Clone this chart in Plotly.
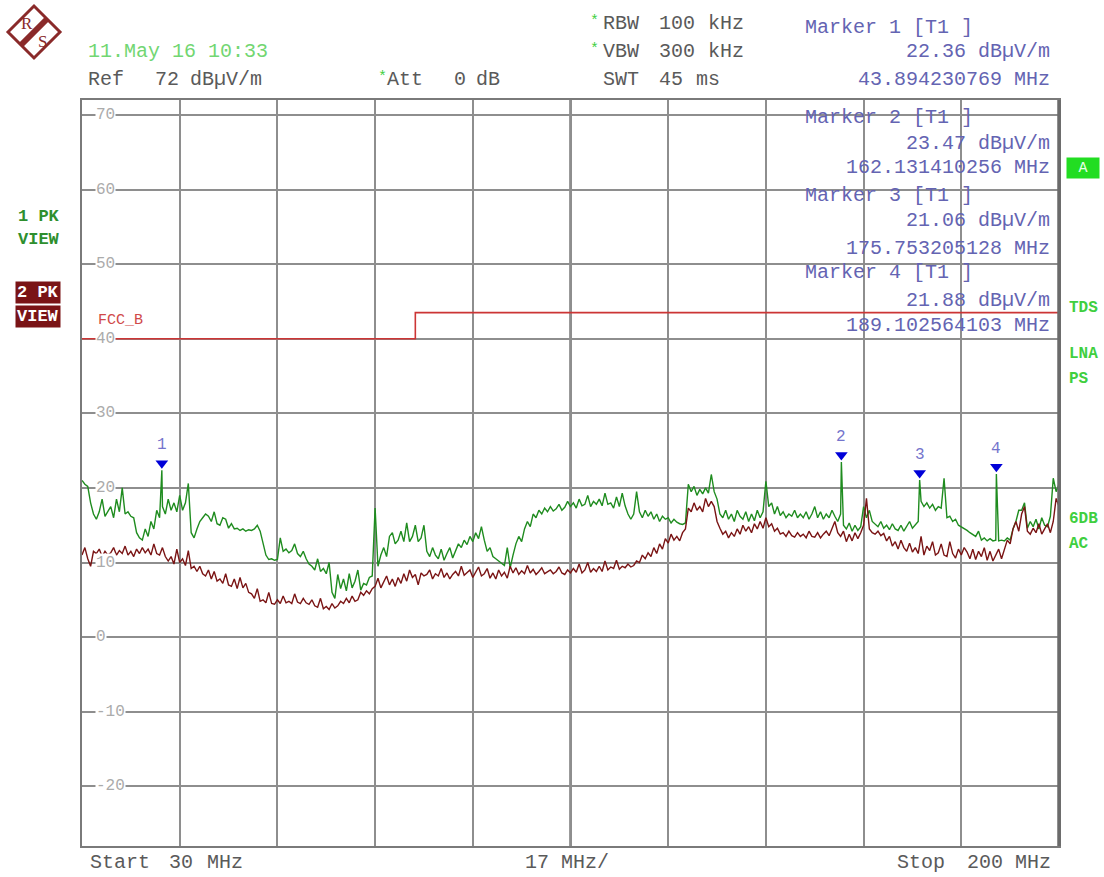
import numpy as np
import plotly.graph_objects as go

# ---------------- data ----------------
START_MHZ = 30.0
STOP_MHZ = 200.0
STEP_MHZ = 0.5
SPAN_DIV_MHZ = 17.0
REF_LEVEL = 72.0
DB_PER_DIV = 10.0

# Trace 1 (PK, green) dBuV/m, 30..200 MHz in 0.5 MHz steps
TRACE1_DBUV = [
    21.0, 20.5, 20.2, 18.0, 16.5, 15.8, 16.8, 18.5, 16.2, 16.8,
    17.5, 16.0, 18.5, 16.8, 20.0, 16.5, 16.8, 16.2, 16.0, 14.0,
    13.3, 13.0, 14.5, 13.5, 15.5, 14.5, 17.0, 16.0, 17.5, 16.5,
    18.5, 17.0, 18.0, 16.8, 19.0, 17.0, 18.0, 20.6, 14.0, 13.3,
    14.5, 15.5, 16.0, 16.5, 16.2, 15.5, 16.8, 15.2, 15.0, 16.0,
    15.8, 14.6, 15.2, 14.5, 14.6, 14.3, 14.5, 14.2, 14.4, 14.3,
    14.5, 15.0, 14.2, 12.5, 11.0, 10.4, 10.5, 10.3, 10.4, 13.3,
    11.5, 11.8, 11.3, 11.6, 12.5, 11.2, 10.8, 11.5, 10.5, 9.8,
    9.5, 9.0, 10.5, 8.8, 9.2, 8.5, 10.0, 6.0, 5.2, 8.4,
    6.5, 7.8, 6.2, 8.5, 6.6, 7.5, 9.0, 6.3, 7.2, 7.0,
    8.0, 8.2, 17.3, 9.5, 11.0, 12.0, 10.8, 13.5, 14.0, 12.5,
    13.0, 14.2, 12.8, 15.3, 12.8, 13.5, 15.0, 12.8, 13.3, 15.0,
    11.5, 10.8, 12.0, 11.0, 10.5, 11.8, 10.3, 11.2, 12.0, 10.6,
    11.5, 12.5, 12.0, 13.0, 12.4, 13.5, 12.8, 14.0, 13.2, 14.8,
    13.0, 11.5, 12.0, 10.8, 10.5, 10.2, 9.8, 9.6, 12.0, 9.3,
    11.0, 12.5, 13.5, 12.8, 14.5, 15.5, 14.8, 16.5, 16.0, 17.0,
    16.5, 17.3, 16.8, 17.5, 16.9, 17.2, 17.8, 17.0, 17.4, 18.2,
    17.5, 18.0, 17.3, 18.5, 17.6, 17.8, 19.0, 17.5, 18.2, 17.8,
    18.5, 17.6, 19.3, 17.8, 18.0, 17.3, 18.8, 17.5, 19.3, 17.6,
    16.5, 15.8, 16.5, 19.5, 16.8, 16.0, 17.0, 16.2, 16.8, 15.8,
    16.5, 15.5, 16.2, 15.8, 16.0, 15.3, 15.8, 15.4, 15.2, 15.1,
    15.3, 20.5, 19.5, 20.2, 19.0, 19.8, 19.2, 20.0, 19.3, 21.8,
    19.5, 18.5, 16.5, 16.0, 17.0, 15.8, 16.5, 15.5, 17.0, 16.2,
    15.8, 16.8, 15.5, 16.5, 15.6, 17.0, 16.0, 16.8, 20.9, 17.5,
    18.0, 16.5, 17.5, 16.3, 16.8, 16.0, 16.5, 16.2, 17.0, 16.0,
    16.5, 16.0, 16.8, 15.8, 16.5, 17.5, 16.0, 16.8, 15.8, 16.5,
    16.0, 17.0, 16.2, 15.5, 16.5, 15.0, 14.5, 15.3, 14.2, 15.0,
    14.3, 14.8, 17.5, 16.0, 17.0, 15.5, 15.2, 14.8, 15.5, 14.6,
    15.0, 14.4, 15.2, 14.5, 14.3, 15.0, 14.2, 14.8, 15.5, 14.6,
    15.0, 15.5, 18.2, 17.5, 18.0, 17.3, 17.8, 17.0, 17.5, 17.3,
    21.3, 16.0, 16.2, 15.5, 15.8, 15.0, 14.8, 14.6, 14.3, 14.0,
    13.8, 13.5, 14.2, 13.0, 13.3, 12.9, 13.2, 12.9, 13.0, 12.9,
    13.0, 12.9, 13.3, 13.0, 14.5, 15.5, 17.0, 17.0, 18.0, 14.6,
    15.5, 14.8, 15.8, 14.5, 16.0, 15.0, 14.8, 16.2, 21.3, 19.5,
    20.5,
]

# Trace 2 (PK, dark red) dBuV/m, same frequency grid
TRACE2_DBUV = [
    11.0, 12.0, 10.5, 9.5, 11.5, 11.2, 11.8, 10.8, 11.5, 11.0,
    11.3, 12.0, 11.0, 11.6, 11.2, 12.2, 11.0, 11.5, 10.8, 11.8,
    11.2, 12.0, 11.3, 11.8, 11.0, 12.5, 11.2, 11.0, 12.0, 10.8,
    10.2, 10.8, 9.8, 11.8, 10.0, 10.5, 9.6, 11.6, 9.2, 9.5,
    8.8, 9.5, 8.5, 8.2, 9.0, 7.8, 8.8, 7.5, 7.8, 7.2,
    8.5, 7.0, 6.8, 7.8, 6.5, 8.0, 6.6, 7.2, 6.0, 5.8,
    5.2, 6.5, 4.8, 5.0, 4.6, 6.0, 4.5, 4.4, 5.0, 4.5,
    5.5, 4.6, 4.8, 4.5, 5.8, 4.7, 4.5, 5.2, 4.6, 4.4,
    5.0, 4.2, 4.0, 5.2, 3.8, 4.1, 3.7, 4.5, 3.9, 4.2,
    4.8, 4.5, 5.2, 4.6, 5.5, 4.8, 5.0, 6.0, 5.6, 6.2,
    5.8, 6.5, 6.8, 7.9, 6.6, 7.5, 8.2, 7.0, 7.8, 6.8,
    8.0, 7.2, 8.5, 7.5, 9.0, 8.0, 8.4, 7.0, 8.6, 8.2,
    8.4, 9.0, 7.8, 8.5, 8.2, 9.2, 8.0, 8.6, 7.8, 8.4,
    8.8, 8.2, 9.5, 8.3, 8.6, 9.0, 8.0, 8.8, 9.4, 8.2,
    8.5, 9.2, 7.9, 8.6, 7.8, 9.0, 8.2, 8.7, 7.9, 9.5,
    8.6, 9.3, 8.4, 8.9, 8.5, 9.6, 8.6, 9.1, 8.4, 8.8,
    9.3, 8.5, 8.8, 9.0, 8.5, 8.8, 9.4, 8.6, 8.4, 9.0,
    8.6, 9.2, 8.7, 9.8, 8.6, 9.0, 10.0, 8.7, 9.2, 8.8,
    9.5, 8.8, 10.2, 9.0, 9.4, 9.2, 10.3, 9.1, 9.5, 9.3,
    9.8, 9.4, 9.6, 10.2, 10.0, 11.0, 10.5, 11.3, 10.8, 12.0,
    11.2, 12.5, 11.8, 13.2, 12.6, 13.8, 13.0, 13.5, 12.9, 14.0,
    14.5, 17.3, 16.8, 18.0, 17.0, 17.5, 16.8, 18.6, 17.5, 18.2,
    17.5, 15.5, 14.6, 13.8, 14.2, 13.3, 14.0, 13.5, 14.5, 13.8,
    15.0, 14.2, 14.8, 14.0, 15.2, 14.5, 15.5, 14.6, 16.0, 14.8,
    15.2, 14.2, 14.6, 13.8, 14.0, 13.5, 14.2, 13.6, 13.4, 14.0,
    13.5, 13.8, 13.3, 14.2, 13.5, 13.4, 14.0, 13.3, 13.8, 14.2,
    13.6, 14.5, 15.5, 14.0, 13.5, 14.2, 12.8, 13.8, 12.9, 14.0,
    13.2, 14.0, 15.0, 18.6, 14.5, 14.0, 13.8, 14.2, 13.6, 13.9,
    12.9, 13.5, 12.2, 12.8, 11.8, 13.0, 12.0, 11.5, 12.6, 11.4,
    12.0, 11.2, 13.5, 11.0, 12.2, 11.6, 12.8, 11.0, 11.3, 12.5,
    11.0, 10.8, 12.8, 11.2, 10.6, 11.8, 11.0, 12.0, 11.4, 10.5,
    11.8, 10.4, 11.5, 10.8, 12.0, 10.3, 11.5, 10.2, 10.9, 11.8,
    10.5, 11.8, 13.0, 12.5, 14.5, 15.5, 14.2, 16.5, 17.5, 14.2,
    13.8, 14.6, 14.0, 15.2, 13.8, 14.5, 15.2, 14.0, 15.5, 18.6,
    17.5,
]

MARKER_IDS = ["1", "2", "3", "4"]
MARKER_MHZ = [43.894230769, 162.131410256, 175.753205128, 189.102564103]
MARKER_DBUV = [22.36, 23.47, 21.06, 21.88]

LIMIT_NAME = "FCC_B"
LIMIT_MHZ = [30.0, 88.0, 88.0, 200.0]
LIMIT_DBUV = [40.0, 40.0, 43.5, 43.5]

Y_TICKS = [70, 60, 50, 40, 30, 20, 10, 0, -10, -20]

# ---------------- geometry / style ----------------
W, H = 1104, 877
L, R, T, B = 82, 1059, 100, 846
FONT = "Liberation Mono"
GRID = "#8e8e8e"
GREEN_TR = "#1f8c1f"
RED_TR = "#7a1414"
MK_TXT = "#6464b2"
HDR = "#5a5a5a"
LGREEN = "#3fcf3f"


def px(x):
    return (x - L) / (R - L)


def py(y):
    return (B - y) / (B - T)


freqs = START_MHZ + STEP_MHZ * np.arange(len(TRACE1_DBUV))
f1 = np.concatenate([freqs, MARKER_MHZ])
v1 = np.concatenate([TRACE1_DBUV, MARKER_DBUV])
order = np.argsort(f1, kind="stable")
f1, v1 = f1[order], v1[order]

y_lo = REF_LEVEL - 10 * DB_PER_DIV

fig = go.Figure()
fig.add_trace(go.Scatter(x=LIMIT_MHZ, y=LIMIT_DBUV, mode="lines",
                         line=dict(color="#cc3535", width=1.6), hoverinfo="skip"))
fig.add_trace(go.Scatter(x=f1, y=v1, mode="lines",
                         line=dict(color=GREEN_TR, width=1.4), hoverinfo="skip"))
fig.add_trace(go.Scatter(x=freqs, y=TRACE2_DBUV, mode="lines",
                         line=dict(color=RED_TR, width=1.4), hoverinfo="skip"))
fig.add_trace(go.Scatter(x=MARKER_MHZ, y=[v + 0.95 for v in MARKER_DBUV], mode="markers",
                         marker=dict(symbol="triangle-down", size=11, color="#0000d8",
                                     line=dict(width=0)), hoverinfo="skip"))

anns = []


def ann(text, x, y, color=HDR, size=20, xanchor="left", bold=False, bg=None,
        family=FONT, **kw):
    t = f"<b>{text}</b>" if bold else text
    d = dict(text=t, x=px(x), y=py(y), xref="paper", yref="paper",
             xanchor=xanchor, yanchor="middle", showarrow=False,
             font=dict(family=family, size=size, color=color))
    if bg:
        d["bgcolor"] = bg
    d.update(kw)
    anns.append(d)


# y tick labels inside plot
for v in Y_TICKS:
    anns.append(dict(text=str(v), x=px(95), y=v, xref="paper", yref="y",
                     xanchor="left", yanchor="middle", showarrow=False,
                     bgcolor="white", borderpad=0,
                     font=dict(family=FONT, size=16, color="#ababab")))

# marker numbers
for mid, f, v in zip(MARKER_IDS, MARKER_MHZ, MARKER_DBUV):
    anns.append(dict(text=mid, x=f, y=v, xref="x", yref="y", showarrow=False,
                     yshift=25, xanchor="center", yanchor="middle",
                     font=dict(family=FONT, size=16, color="#7474cc")))

# header
ann("11.May 16 10:33", 86, 52, color="#72d672")
ann("Ref", 86, 79)
ann("72", 153, 79)
ann("dBµV/m", 188, 79)
ann("*", 376, 77, color=LGREEN, size=15)
ann("Att", 385, 79)
ann("0", 452, 79)
ann("dB", 474, 79)
for yy, lab, val in [(24, "RBW", "100"), (52, "VBW", "300")]:
    ann("*", 588, yy - 2, color=LGREEN, size=15)
    ann(lab, 601, yy)
    ann(val, 657, yy)
    ann("kHz", 706, yy)
ann("SWT", 601, 79)
ann("45", 657, 79)
ann("ms", 694, 79)

# marker readouts
mk_rows = [(27, 52, 79), (117, 143, 168), (195, 220, 248), (272, 300, 325)]
for mid, f, v, (y0, y1, y2) in zip(MARKER_IDS, MARKER_MHZ, MARKER_DBUV, mk_rows):
    ann(f"Marker {mid} [T1 ]", 803, y0, color=MK_TXT)
    ann(f"{v:.2f} dBµV/m", 1052, y1, color=MK_TXT, xanchor="right")
    ann(f"{f:.9f} MHz", 1052, y2, color=MK_TXT, xanchor="right")

# limit label
ann(LIMIT_NAME, 96, 320, color="#d04848", size=15)

# left status labels
ann("1 PK", 16, 216, color="#2e8f2e", size=17, bold=True)
ann("VIEW", 16, 239, color="#2e8f2e", size=17, bold=True)
ann("2 PK", 15, 292, color="white", size=17, bold=True, bg="#7a1416", borderpad=1)
ann("VIEW", 15, 316, color="white", size=17, bold=True, bg="#7a1416", borderpad=1)

# right status labels
ann("A", 1083, 168, color="#e8ffe8", size=15, xanchor="center", bg="#22dd22",
    width=30, height=18)
for lab, yy in [("TDS", 308), ("LNA", 354), ("PS", 379), ("6DB", 519), ("AC", 544)]:
    ann(lab, 1067, yy, color=LGREEN, size=16, bold=True)

# bottom
ann("Start", 88, 863)
ann(f"{START_MHZ:.0f}", 167, 863)
ann("MHz", 205, 863)
ann(f"{SPAN_DIV_MHZ:.0f} MHz/", 567, 863, xanchor="center")
ann("Stop", 895, 863)
ann(f"{STOP_MHZ:.0f}", 965, 863)
ann("MHz", 1013, 863)

# logo letters
ann("R", 27, 23, color="#8a2a2a", size=17, xanchor="center", family="Liberation Serif")
ann("S", 42, 41, color="#8a2a2a", size=17, xanchor="center", family="Liberation Serif")

shapes = []
# logo diamond + band
shapes.append(dict(type="path", xref="paper", yref="paper",
                   path=f"M {px(8)},{py(32)} L {px(34)},{py(6)} L {px(60)},{py(32)} L {px(34)},{py(58)} Z",
                   line=dict(color="#8a2a2a", width=3), fillcolor="rgba(0,0,0,0)"))
shapes.append(dict(type="line", xref="paper", yref="paper",
                   x0=px(47), y0=py(19), x1=px(21), y1=py(45),
                   line=dict(color="#8a2a2a", width=6)))
# heavier centre line and right border
shapes.append(dict(type="line", xref="x", yref="paper", x0=(START_MHZ + STOP_MHZ) / 2,
                   x1=(START_MHZ + STOP_MHZ) / 2, y0=0, y1=1,
                   line=dict(color="#7a7a7a", width=2.5), layer="below"))
shapes.append(dict(type="line", xref="paper", yref="paper", x0=1, x1=1, y0=0, y1=1,
                   line=dict(color="#6a6a6a", width=3.5)))

fig.update_layout(
    width=W, height=H,
    margin=dict(l=L, r=W - R, t=T, b=H - B, pad=0),
    paper_bgcolor="white", plot_bgcolor="white",
    showlegend=False,
    annotations=anns, shapes=shapes,
    xaxis=dict(range=[START_MHZ, STOP_MHZ],
               tickvals=list(np.arange(START_MHZ, STOP_MHZ + 0.1, SPAN_DIV_MHZ)),
               showticklabels=False, ticks="", showgrid=True, gridcolor=GRID,
               gridwidth=1.5, zeroline=False, showline=True, mirror=True,
               linecolor="#7a7a7a", linewidth=2),
    yaxis=dict(range=[y_lo, REF_LEVEL], tickvals=Y_TICKS,
               showticklabels=False, ticks="", showgrid=True, gridcolor=GRID,
               gridwidth=1.5, zeroline=False, showline=True, mirror=True,
               linecolor="#7a7a7a", linewidth=2),
)

fig.write_html("out.html", config={"displayModeBar": False},
               post_script="document.body.style.margin='0';document.body.style.overflow='hidden';")
